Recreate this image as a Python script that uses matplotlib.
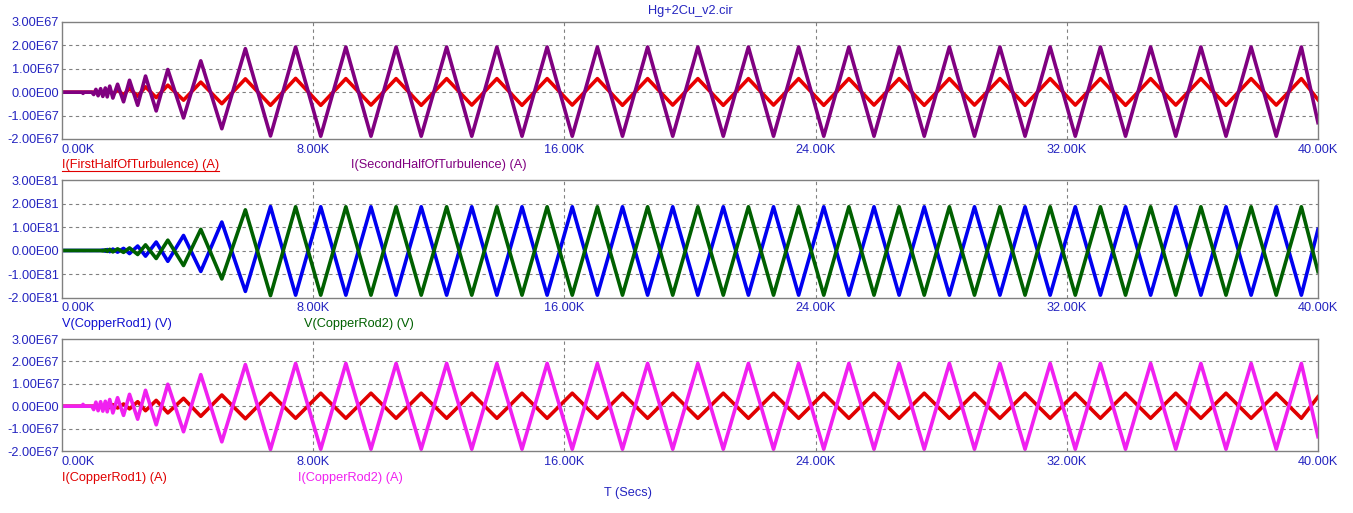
import matplotlib
matplotlib.use('Agg')
import matplotlib.pyplot as plt
from matplotlib.lines import Line2D

plt.rcParams['font.family'] = ['Liberation Sans', 'DejaVu Sans']

# vertex times of the traces, in K seconds (shared by every trace)
t_k = [0.00, 0.64, 0.67, 0.70, 0.95, 1.01, 1.08, 1.15, 1.23, 1.30, 1.38, 1.44,
       1.52, 1.62, 1.77, 1.96, 2.15, 2.41, 2.66, 3.00, 3.37, 3.87, 4.42, 5.09,
       5.84, 6.64, 7.44, 8.24, 9.04, 9.84, 10.64, 11.44, 12.25, 13.05, 13.85,
       14.65, 15.45, 16.25, 17.05, 17.85, 18.65, 19.45, 20.25, 21.06, 21.86,
       22.66, 23.46, 24.26, 25.06, 25.86, 26.66, 27.46, 28.26, 29.06, 29.87,
       30.67, 31.47, 32.27, 33.07, 33.87, 34.67, 35.47, 36.27, 37.07, 37.87,
       38.67, 39.47, 40.00]

# top panel, units of 1E67 A
first_half = [0, 0, 0, 0, 0, 0, 0, 0, 0, -0.04, 0.05, -0.06,
              0.07, -0.08, 0.10, -0.12, 0.16, -0.17, 0.23, -0.23, 0.30, -0.34, 0.43, -0.49,
              0.57, -0.56, 0.59, -0.56, 0.58, -0.55, 0.58, -0.56, 0.58, -0.55, 0.58,
              -0.56, 0.58, -0.55, 0.58, -0.56, 0.58, -0.55, 0.58, -0.56, 0.58,
              -0.55, 0.58, -0.56, 0.58, -0.55, 0.58, -0.56, 0.58, -0.55, 0.58,
              -0.56, 0.58, -0.55, 0.58, -0.56, 0.58, -0.55, 0.58, -0.56, 0.58,
              -0.55, 0.58, -0.32]
second_half = [0, 0, -0.05, 0, 0, -0.10, 0.12, -0.15, 0.15, -0.18, 0.18, -0.20,
               0.26, -0.25, 0.34, -0.41, 0.51, -0.56, 0.69, -0.80, 0.97, -1.10, 1.34, -1.56,
               1.86, -1.87, 1.93, -1.88, 1.93, -1.88, 1.93, -1.88, 1.93, -1.88, 1.93,
               -1.88, 1.93, -1.88, 1.93, -1.88, 1.93, -1.88, 1.93, -1.88, 1.93,
               -1.88, 1.93, -1.88, 1.93, -1.88, 1.93, -1.88, 1.93, -1.88, 1.93,
               -1.88, 1.93, -1.88, 1.93, -1.88, 1.93, -1.88, 1.93, -1.88, 1.93,
               -1.88, 1.93, -1.30]

# middle panel, units of 1E81 V
rod1_v = [0, 0, 0, 0, 0, 0, 0, 0, 0, 0.02, -0.03, 0.04,
          -0.05, 0.06, -0.07, 0.09, -0.13, 0.19, -0.24, 0.36, -0.46, 0.64, -0.89, 1.21,
          -1.74, 1.87, -1.90, 1.86, -1.90, 1.86, -1.90, 1.86, -1.90, 1.86, -1.90,
          1.86, -1.90, 1.86, -1.90, 1.86, -1.90, 1.86, -1.90, 1.86, -1.90,
          1.86, -1.90, 1.86, -1.90, 1.86, -1.90, 1.86, -1.90, 1.86, -1.90,
          1.86, -1.90, 1.86, -1.90, 1.86, -1.90, 1.86, -1.90, 1.86, -1.90,
          1.86, -1.90, 0.90]
rod2_v = [0, 0, 0, 0, 0, 0, 0, 0, 0, -0.02, 0.03, -0.04,
          0.05, -0.06, 0.07, -0.08, 0.11, -0.17, 0.24, -0.34, 0.44, -0.64, 0.90, -1.21,
          1.73, -1.92, 1.86, -1.90, 1.86, -1.90, 1.86, -1.90, 1.86, -1.90, 1.86,
          -1.90, 1.86, -1.90, 1.86, -1.90, 1.86, -1.90, 1.86, -1.90, 1.86,
          -1.90, 1.86, -1.90, 1.86, -1.90, 1.86, -1.90, 1.86, -1.90, 1.86,
          -1.90, 1.86, -1.90, 1.86, -1.90, 1.86, -1.90, 1.86, -1.90, 1.86,
          -1.90, 1.86, -0.90]

# bottom panel, units of 1E67 A
rod1_i = [0, 0, 0, 0, 0, 0, 0, 0, 0, 0, 0, 0.05,
          -0.06, 0.07, -0.08, 0.10, -0.12, 0.20, -0.20, 0.26, -0.30, 0.35, -0.45, 0.50,
          -0.56, 0.58, -0.54, 0.58, -0.54, 0.58, -0.54, 0.58, -0.54, 0.58, -0.54,
          0.58, -0.54, 0.58, -0.54, 0.58, -0.54, 0.58, -0.54, 0.58, -0.54,
          0.58, -0.54, 0.58, -0.54, 0.58, -0.54, 0.58, -0.54, 0.58, -0.54,
          0.58, -0.54, 0.58, -0.54, 0.58, -0.54, 0.58, -0.54, 0.58, -0.54,
          0.58, -0.54, 0.42]
rod2_i = [0, 0, 0.08, 0, 0, -0.15, 0.18, -0.20, 0.20, -0.22, 0.22, -0.25,
          0.30, -0.30, 0.38, -0.41, 0.53, -0.58, 0.71, -0.83, 0.98, -1.14, 1.41, -1.59,
          1.86, -1.93, 1.91, -1.92, 1.91, -1.92, 1.91, -1.92, 1.91, -1.92, 1.91,
          -1.92, 1.91, -1.92, 1.91, -1.92, 1.91, -1.92, 1.91, -1.92, 1.91,
          -1.92, 1.91, -1.92, 1.91, -1.92, 1.91, -1.92, 1.91, -1.92, 1.91,
          -1.92, 1.91, -1.92, 1.91, -1.92, 1.91, -1.92, 1.91, -1.92, 1.91,
          -1.92, 1.91, -1.36]

x_ticks = [0, 8, 16, 24, 32, 40]
x_tick_labels = ['0.00K', '8.00K', '16.00K', '24.00K', '32.00K', '40.00K']
y_ticks = [-2, -1, 0, 1, 2, 3]
y_labels_67 = ['-2.00E67', '-1.00E67', '0.00E00', '1.00E67', '2.00E67', '3.00E67']
y_labels_81 = ['-2.00E81', '-1.00E81', '0.00E00', '1.00E81', '2.00E81', '3.00E81']

W, H = 1353, 513
fig = plt.figure(figsize=(W / 100, H / 100), dpi=100)
fig.patch.set_facecolor('white')

txt_blue = '#2424c0'
grid_c = '#808080'


def px_box(top, bottom, left=62, right=1318):
    return [left / W, 1 - bottom / H, (right - left) / W, (bottom - top) / H]


def setup(ax, ylabels):
    ax.set_xlim(0, 40)
    ax.set_ylim(-2, 3)
    ax.set_xticks(x_ticks)
    ax.set_xticklabels(x_tick_labels)
    ax.set_yticks(y_ticks)
    ax.set_yticklabels(ylabels)
    ax.tick_params(length=0, colors=txt_blue, labelsize=9.2)
    ax.tick_params(axis='x', pad=3.5)
    ax.tick_params(axis='y', pad=2)
    labs = ax.get_xticklabels()
    labs[0].set_horizontalalignment('left')
    for sp in ax.spines.values():
        sp.set_color(grid_c)
        sp.set_linewidth(1.0)
    for y in [-1, 0, 1, 2]:
        ax.axhline(y, color=grid_c, lw=0.8, ls=(0, (3, 3)), zorder=0)
    for x in [8, 16, 24, 32]:
        ax.axvline(x, color=grid_c, lw=0.8, ls=(0, (3, 3)), zorder=0)


ax1 = fig.add_axes(px_box(22, 139))
ax2 = fig.add_axes(px_box(180, 297.5))
ax3 = fig.add_axes(px_box(339, 451))

setup(ax1, y_labels_67)
setup(ax2, y_labels_81)
setup(ax3, y_labels_67)

lw = 2.6
ax1.plot(t_k, first_half, color='#e80000', lw=lw, solid_joinstyle='round')
ax1.plot(t_k, second_half, color='#800080', lw=lw, solid_joinstyle='round')
ax2.plot(t_k, rod1_v, color='#0000f0', lw=lw, solid_joinstyle='round')
ax2.plot(t_k, rod2_v, color='#006000', lw=lw, solid_joinstyle='round')
ax3.plot(t_k, rod1_i, color='#e00000', lw=lw, solid_joinstyle='round')
ax3.plot(t_k, rod2_i, color='#f020f0', lw=lw, solid_joinstyle='round')


def ftext(x, y, s, color, ha='left'):
    return fig.text(x / W, 1 - y / H, s, color=color, fontsize=9.2,
                    ha=ha, va='center')


fig.text(690 / W, 1 - 11 / H, 'Hg+2Cu_v2.cir', color=txt_blue, fontsize=9.2,
         ha='center', va='center')
lab_first = ftext(62, 165, 'I(FirstHalfOfTurbulence) (A)', '#e00000')
ftext(351, 165, 'I(SecondHalfOfTurbulence) (A)', '#800080')
ftext(62, 324, 'V(CopperRod1) (V)', '#1010d0')
ftext(304, 324, 'V(CopperRod2) (V)', '#006000')
ftext(62, 478, 'I(CopperRod1) (A)', '#e00000')
ftext(298, 478, 'I(CopperRod2) (A)', '#f020f0')
ftext(628, 493, 'T (Secs)', txt_blue, ha='center')

# underline the first trace name
fig.canvas.draw()
bb = lab_first.get_window_extent()
uy = (bb.y0 + 0.5) / H
fig.add_artist(Line2D([bb.x0 / W, bb.x1 / W], [uy, uy], color='#e00000', lw=0.8))

fig.savefig('out.png', dpi=100, facecolor='white')
